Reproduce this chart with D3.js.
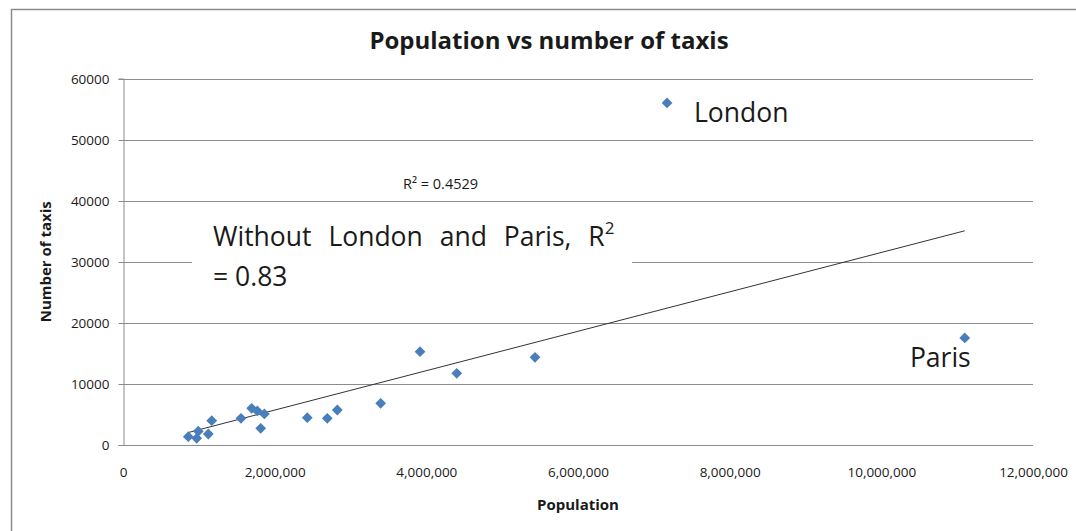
<!DOCTYPE html>
<html>
<head>
<meta charset="utf-8">
<script src="https://cdn.jsdelivr.net/npm/d3@7"></script>
<style>
  body { margin: 0; background: #fff; }
  text { font-family: "Open Sans", sans-serif; fill: #1a1a1a; }
</style>
</head>
<body>
<div class="chart"></div>
<script>
// populations (people), and taxis for each city
const population = [861000, 972000, 993000, 1125000, 1170000, 1556000, 1697000, 1771000, 1864000, 1816000,
  2430000, 2694000, 2826000, 3398000, 3917000, 4401000, 5433000, 7174000, 11100000];
const taxis = [1360, 1100, 2250, 1800, 3980, 4370, 6010, 5570, 5080, 2730,
  4470, 4370, 5730, 6830, 15280, 11740, 14360, 56000, 17520];
const cityLabels = ['London', 'Paris'];
const cityIndex = [17, 18];

const xTicks = [0, 2000000, 4000000, 6000000, 8000000, 10000000, 12000000];
const yTicks = [0, 10000, 20000, 30000, 40000, 50000, 60000];

const width = 1076, height = 531;
const plotLeft = 123, plotRight = 1033, plotTop = 78.5, plotBottom = 445;

let x = d3.scaleLinear().domain([0, 12000000]).range([plotLeft, plotRight]);
let y = d3.scaleLinear().domain([0, 60000]).range([plotBottom, plotTop]);

let svg = d3.select('.chart').append('svg')
  .attr('width', width)
  .attr('height', height)

// outer chart frame
svg.append('path')
  .attr('d', `M11.5,${height} V9.5 H${width}`)
  .attr('fill', 'none')
  .attr('stroke', '#8c8c8c')
  .attr('stroke-width', 1.5)

// gridlines
svg.append('g')
  .selectAll('line')
  .data(yTicks)
  .enter()
  .append('line')
  .attr('x1', plotLeft)
  .attr('x2', plotRight)
  .attr('y1', d => Math.round(y(d)) + 0.5)
  .attr('y2', d => Math.round(y(d)) + 0.5)
  .attr('stroke', '#8c8c8c')
  .attr('stroke-width', 1)

let yAxis = svg.append('g')
  .attr('transform', `translate(${plotLeft + 0.5},0)`)
  .call(d3.axisLeft(y).tickValues(yTicks).tickSize(5).tickPadding(9).tickFormat(d3.format('d')))
yAxis.select('.domain').attr('stroke', '#8c8c8c')
yAxis.selectAll('.tick line').attr('stroke', '#8c8c8c')
yAxis.selectAll('.tick text').style('font-size', '13.5px').attr('fill', '#222')
yAxis.selectAll('.tick').attr('transform', d => `translate(0,${Math.round(y(d)) + 0.5})`)

let xAxis = svg.append('g')
  .attr('transform', `translate(0,${plotBottom})`)
  .call(d3.axisBottom(x).tickValues(xTicks).tickSize(0).tickPadding(22).tickFormat(d3.format(',')))
xAxis.select('.domain').remove()
xAxis.selectAll('.tick text').style('font-size', '13.5px').attr('fill', '#222')

// least squares trendline through all the points
const mx = d3.mean(population), my = d3.mean(taxis);
const sxy = d3.sum(population, (p, i) => (p - mx) * (taxis[i] - my));
const sxx = d3.sum(population, p => (p - mx) * (p - mx));
const slope = sxy / sxx, intercept = my - slope * mx;
const xExt = d3.extent(population);

svg.append('line')
  .attr('x1', x(xExt[0]))
  .attr('y1', y(intercept + slope * xExt[0]))
  .attr('x2', x(xExt[1]))
  .attr('y2', y(intercept + slope * xExt[1]))
  .attr('stroke', '#333')
  .attr('stroke-width', 1)

// diamond markers
svg.append('g')
  .selectAll('path')
  .data(population)
  .enter()
  .append('path')
  .attr('d', d3.symbol(d3.symbolSquare, 58))
  .attr('transform', (d, i) => `translate(${x(d)},${y(taxis[i])}) rotate(45)`)
  .attr('fill', '#4a7ebb')

// titles
svg.append('text')
  .attr('x', 549)
  .attr('y', 49)
  .attr('text-anchor', 'middle')
  .style('font-size', '24px')
  .style('font-weight', 'bold')
  .text('Population vs number of taxis')

svg.append('text')
  .attr('x', (plotLeft + plotRight) / 2)
  .attr('y', 510)
  .attr('text-anchor', 'middle')
  .style('font-size', '15px')
  .style('font-weight', 'bold')
  .text('Population')

svg.append('text')
  .attr('transform', `translate(51,${(plotTop + plotBottom) / 2}) rotate(-90)`)
  .attr('text-anchor', 'middle')
  .style('font-size', '15px')
  .style('font-weight', 'bold')
  .text('Number of taxis')

// R² of the trendline
svg.append('text')
  .attr('x', 403)
  .attr('y', 189)
  .style('font-size', '14.5px')
  .text('R² = 0.4529')

// text box note
svg.append('rect')
  .attr('x', 192)
  .attr('y', 206)
  .attr('width', 440)
  .attr('height', 90)
  .attr('fill', '#fff')

let note = svg.append('text')
  .attr('x', 213)
  .attr('y', 246)
  .style('font-size', '26.5px')
  .style('word-spacing', '10px')
note.append('tspan').text('Without London and Paris, R')
note.append('tspan').attr('dy', -12).style('font-size', '17px').text('2')
svg.append('text')
  .attr('x', 213)
  .attr('y', 286)
  .style('font-size', '26.5px')
  .text('= 0.83')

// city labels
svg.append('g')
  .selectAll('text')
  .data(cityLabels)
  .enter()
  .append('text')
  .attr('x', (d, i) => i == 0 ? x(population[cityIndex[i]]) + 27 : x(population[cityIndex[i]]) + 6)
  .attr('y', (d, i) => i == 0 ? y(taxis[cityIndex[i]]) + 19 : y(taxis[cityIndex[i]]) + 29)
  .attr('text-anchor', (d, i) => i == 0 ? 'start' : 'end')
  .style('font-size', '26.5px')
  .text(d => d)
</script>
</body>
</html>
